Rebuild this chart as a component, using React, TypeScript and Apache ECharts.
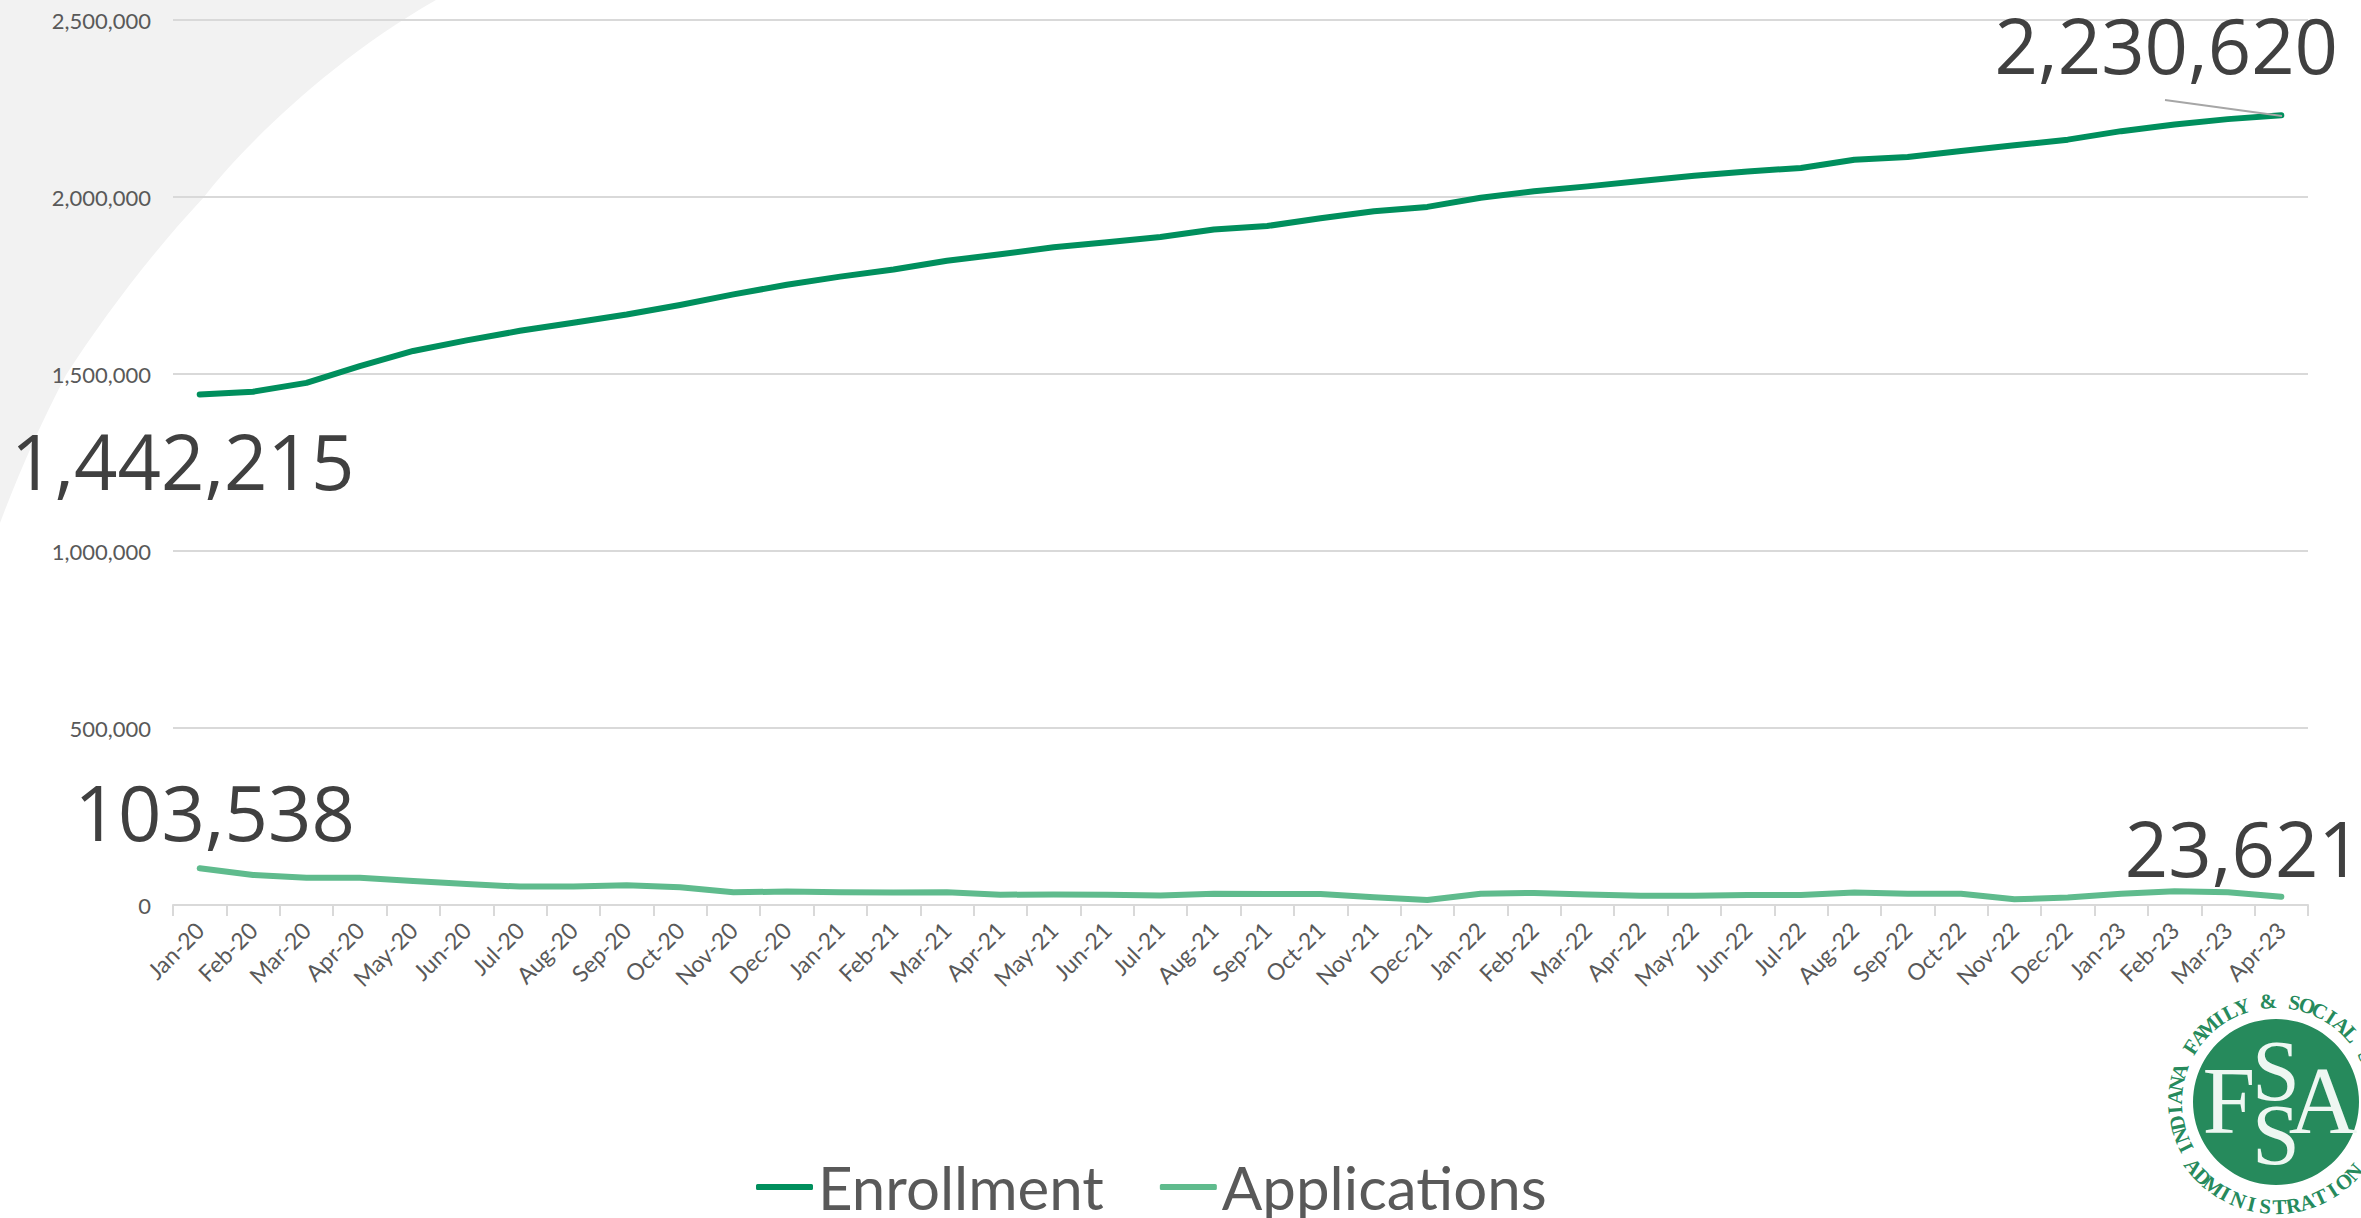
import React, { useEffect, useRef } from "react";
import * as echarts from "echarts";

const months = [
  "Jan-20","Feb-20","Mar-20","Apr-20","May-20","Jun-20","Jul-20","Aug-20","Sep-20","Oct-20","Nov-20","Dec-20",
  "Jan-21","Feb-21","Mar-21","Apr-21","May-21","Jun-21","Jul-21","Aug-21","Sep-21","Oct-21","Nov-21","Dec-21",
  "Jan-22","Feb-22","Mar-22","Apr-22","May-22","Jun-22","Jul-22","Aug-22","Sep-22","Oct-22","Nov-22","Dec-22",
  "Jan-23","Feb-23","Mar-23","Apr-23",
];
const enrollment = [
  1442215,1450000,1475000,1522000,1565000,1595000,1622000,1645000,1668000,1695000,1725000,1752000,
  1775000,1795000,1820000,1838000,1858000,1872000,1887000,1908000,1918000,1940000,1960000,1972000,
  1998000,2016000,2030000,2045000,2060000,2072000,2082000,2105000,2113000,2130000,2146000,2162000,
  2186000,2205000,2220000,2230620,
];
const applications = [
  103538,85000,77000,77000,68000,59000,52000,52000,56000,50000,36000,38000,
  36000,35000,36000,29000,30000,29000,27000,32000,31000,31000,22000,14000,
  32000,34000,30000,26000,26000,28000,28000,35000,32000,32000,16000,21000,
  32000,39000,36000,23621,
];

const FONT = "Lato";
const BIG_FONT = "Open Sans";
const fmt = (v: number) => v.toLocaleString("en-US");

const bigLabel = (dx: number, dy: number) => ({
  show: true,
  position: "top",
  offset: [dx, dy],
  fontFamily: BIG_FONT,
  fontSize: 76,
  color: "#404040",
  formatter: (p: any) => fmt(p.value),
});

const lineData = (vals: number[], first: number[], last: number[]) =>
  vals.map((v, i) => {
    if (i === 0) return { value: v, label: bigLabel(first[0], first[1]) };
    if (i === vals.length - 1) return { value: v, label: bigLabel(last[0], last[1]) };
    return { value: v };
  });

const ringText = "INDIANA FAMILY & SOCIAL S";
const ringBottom = "ADMINISTRATION";
const LOGO = { x: 2276, y: 1102, r: 83 };

function logoGraphics() {
  const out: any[] = [];
  out.push({ type: "circle", shape: { cx: LOGO.x, cy: LOGO.y, r: LOGO.r }, style: { fill: "#268a5c" }, z: 5 });
  const big = (text: string, x: number, y: number, size: number) => ({
    type: "text", x, y, z: 6,
    style: { text, x: 0, y: 0, fill: "#eef7f2", font: `${size}px 'Liberation Serif'`, textAlign: "center", textVerticalAlign: "middle" },
  });
  out.push(big("F", 2229, 1101, 95));
  out.push(big("A", 2323, 1101, 95));
  out.push(big("S", 2276, 1071, 86));
  out.push(big("S", 2276, 1135, 86));
  const place = (text: string, startDeg: number, stepDeg: number, bottom: boolean) => {
    [...text].forEach((ch, i) => {
      const a = ((startDeg + i * stepDeg) * Math.PI) / 180;
      const R = bottom ? 105 : 101;
      out.push({
        type: "text",
        x: LOGO.x + R * Math.cos(a),
        y: LOGO.y + R * Math.sin(a),
        rotation: bottom ? -(a - Math.PI / 2) : -(a + Math.PI / 2),
        z: 6,
        style: { text: ch, fill: "#268a5c", font: `bold 21px 'Liberation Serif'`, textAlign: "center", textVerticalAlign: "middle" },
      });
    });
  };
  place(ringText, 153, 7.5, false);
  place(ringBottom, 142, -7.7, true);
  return out;
}

export default function App() {
  const ref = useRef<HTMLDivElement>(null);
  useEffect(() => {
    echarts.graphic.registerShape(
      "bgArc",
      echarts.graphic.extendPath("M0 0 L436 0 C330 60 240 150 204 197 C150 255 105 315 66 375 C40 425 18 475 0 523 Z", {})
    );
    const chart = echarts.init(ref.current!, null, { renderer: "svg" });
    chart.setOption({
      animation: false,
      backgroundColor: "#ffffff",
      grid: { left: 173, right: 53, top: 20, bottom: 313, containLabel: false },
      graphic: [
        { type: "bgArc", x: 0, y: 0, z: -10, style: { fill: "#f2f2f2" } },
        { type: "line", z: 5, shape: { x1: 2165, y1: 100, x2: 2282, y2: 116 }, style: { stroke: "#a6a6a6", lineWidth: 2 } },
        ...logoGraphics(),
      ],
      legend: {
        left: 751,
        top: 1152,
        icon: "roundRect",
        itemWidth: 57,
        itemHeight: 6,
        itemGap: 56,
        textStyle: { fontFamily: FONT, fontSize: 60, color: "#595959" },
        data: ["Enrollment", "Applications"],
      },
      xAxis: {
        type: "category",
        data: months,
        boundaryGap: true,
        axisLine: { lineStyle: { color: "#d9d9d9", width: 2 } },
        axisTick: { show: true, length: 11, lineStyle: { color: "#d9d9d9", width: 2 } },
        axisLabel: { interval: 0, rotate: 45, margin: 21, fontFamily: FONT, fontSize: 23, color: "#595959" },
      },
      yAxis: {
        type: "value",
        min: 0,
        max: 2500000,
        interval: 500000,
        axisLine: { show: false },
        axisTick: { show: false },
        axisLabel: { margin: 22, fontFamily: FONT, fontSize: 22, color: "#595959", formatter: (v: number) => fmt(v) },
        splitLine: { lineStyle: { color: "#d9d9d9", width: 2 } },
      },
      series: [
        {
          name: "Enrollment",
          type: "line",
          data: lineData(enrollment, [-17, 109], [-115, -28]),
          showSymbol: true,
          symbol: "circle",
          symbolSize: 0,
          color: "#008f5d",
          lineStyle: { color: "#008f5d", width: 6, cap: "round", join: "round" },
          itemStyle: { color: "#008f5d" },
        },
        {
          name: "Applications",
          type: "line",
          data: lineData(applications, [15, -14], [-38, -6]),
          showSymbol: true,
          symbol: "circle",
          symbolSize: 0,
          color: "#5fbb8d",
          lineStyle: { color: "#5fbb8d", width: 6, cap: "round", join: "round" },
          itemStyle: { color: "#5fbb8d" },
        },
      ],
    });
    return () => chart.dispose();
  }, []);
  return <div ref={ref} style={{ position: "absolute", left: 0, top: 0, width: 2361, height: 1218 }} />;
}
